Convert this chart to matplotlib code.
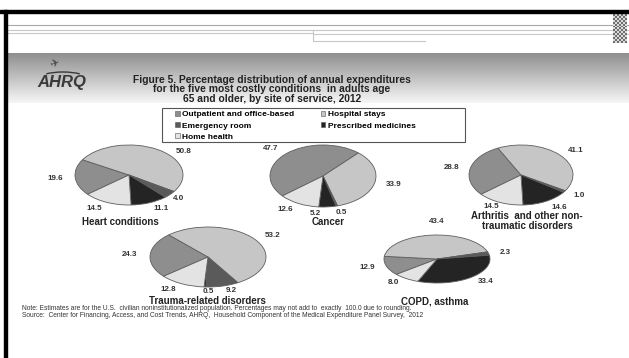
import numpy as np
import matplotlib
matplotlib.use("Agg")
import matplotlib.pyplot as plt
import matplotlib.patches as patches
from matplotlib.patches import Patch

plt.rcParams['font.family'] = ['Liberation Sans', 'DejaVu Sans']

# site-of-service categories (legend order)
categories = ['Outpatient and office-based', 'Hospital stays', 'Emergency room',
              'Prescribed medicines', 'Home health']
colors = ['#8e8e8e', '#c6c6c6', '#5a5a5a', '#242424', '#e3e3e3']

# percentage shares per condition, same order as categories
heart = [19.6, 50.8, 4.0, 11.1, 14.5]
cancer = [47.7, 33.9, 0.5, 5.2, 12.6]
arthritis = [28.8, 41.1, 1.0, 14.6, 14.5]
trauma = [24.3, 53.2, 9.2, 0.5, 12.8]
copd = [12.9, 43.4, 2.3, 33.4, 8.0]

titles = ['Heart conditions', 'Cancer', 'Arthritis  and other non-\ntraumatic disorders',
          'Trauma-related disorders', 'COPD, asthma']

W, H = 629, 358
fig = plt.figure(figsize=(W / 100, H / 100), dpi=100)

# background layer in pixel coordinates
bg = fig.add_axes([0, 0, 1, 1])
bg.set_xlim(0, W)
bg.set_ylim(H, 0)
bg.axis('off')

# header gradient band (dark at top, fading to white)
grad = np.linspace(0, 1, 100).reshape(-1, 1)
cmap = matplotlib.colors.LinearSegmentedColormap.from_list('g', ['#8f8f8f', '#f6f6f6'])
bg.imshow(grad, extent=(7, W, 103, 53), cmap=cmap, aspect='auto', zorder=0)

# frame lines of the slide
bg.add_patch(patches.Rectangle((0, 10), W, 2.5, color='black', zorder=3))
bg.add_patch(patches.Rectangle((4, 10), 3, H - 10, color='black', zorder=3))
bg.plot([7, W], [25, 25], color='#a8a8a8', lw=0.8)
bg.plot([7, W], [29.5, 29.5], color='#c8c8c8', lw=0.8)
bg.plot([7, 313], [32.5, 32.5], color='#c8c8c8', lw=0.8)
bg.plot([313, W], [33.5, 33.5], color='#c8c8c8', lw=0.8)
bg.plot([313, 313, 425], [29.5, 41, 41], color='#c8c8c8', lw=0.8)
chk = (np.indices((16, 7)).sum(axis=0) % 2).astype(float)
bg.imshow(chk, extent=(613, 627, 43, 12), cmap='Greys', vmin=-0.6, vmax=1.9,
          aspect='auto', interpolation='nearest', zorder=2)

# AHRQ logo
bg.text(62, 83, 'AHRQ', fontsize=12, fontweight='bold', style='italic',
        color='#3a3a3a', ha='center', va='center')
bg.add_patch(patches.Arc((63, 80), 52, 16, theta1=200, theta2=340, color='#3a3a3a', lw=1.0))
bg.text(55, 64, '\u2708', fontsize=8, color='#4a4a4a', ha='center', va='center',
        family=['DejaVu Sans'], rotation=20)

# figure title
bg.text(272, 89.5, 'Figure 5. Percentage distribution of annual expenditures\n'
        'for the five most costly conditions  in adults age\n'
        '65 and older, by site of service, 2012',
        fontsize=7.4, fontweight='bold', color='#222222', ha='center', va='center',
        linespacing=0.98)

# legend (frame drawn separately so the columns sit where the reference has them)
bg.add_patch(patches.Rectangle((162, 108), 303, 34, fill=False, edgecolor='#555555', lw=0.8))
handles = [Patch(facecolor=colors[i], edgecolor='#555555', lw=0.4, label=categories[i])
           for i in [0, 2, 4, 1, 3]]
fig.legend(handles=handles, ncol=2, loc='upper left',
           bbox_to_anchor=(175 / W, 1 - 111 / H),
           prop={'size': 6.0, 'weight': 'bold'}, frameon=False,
           handlelength=0.55, handleheight=0.55, handletextpad=0.3, borderpad=0,
           labelspacing=0.45, borderaxespad=0, columnspacing=3.2)

# pie placement: centre (px), radii (px), title position (px)
layout = [
    (heart, (129, 175), 54, 30, (120, 222)),
    (cancer, (323, 176), 53, 31, (328, 222)),
    (arthritis, (521, 175), 52, 30, (527, 221)),
    (trauma, (208, 257), 58, 30, (207, 301)),
    (copd, (437, 259), 53, 24, (435, 301)),
]
# label nudges in pixels (chart index, slice index) -> (dx, dy)
nudge = {(0, 1): (12, 8), (0, 2): (-6, 0), (1, 3): (-19, 0), (1, 2): (-4, 0),
         (2, 4): (4, -2), (3, 3): (10, -2), (3, 2): (0, -2), (4, 1): (14, -8)}

L = 1.7
for k, (vals, (cx, cy), rx, ry, (tx, ty)) in enumerate(layout):
    ax = fig.add_axes([(cx - L * rx) / W, 1 - (cy + L * ry) / H, 2 * L * rx / W, 2 * L * ry / H])
    wedges, texts = ax.pie(vals, colors=colors, startangle=220, counterclock=False,
                           labels=[f'{v:.1f}' for v in vals], labeldistance=1.22,
                           wedgeprops=dict(edgecolor='#5e5e5e', linewidth=0.6),
                           textprops=dict(fontsize=5.8, fontweight='bold', color='#333333'))
    ax.set_aspect('auto')
    ax.set_xlim(-L, L)
    ax.set_ylim(-L, L)
    ax.patch.set_alpha(0)
    for i, t in enumerate(texts):
        if (k, i) in nudge:
            dx, dy = nudge[(k, i)]
            x, y = t.get_position()
            t.set_position((x + dx / rx, y - dy / ry))
    bg.text(tx, ty, titles[k], fontsize=7, fontweight='bold', color='#222222',
            ha='center', va='center', linespacing=0.95)

# footnote
bg.text(22, 309, 'Note: Estimates are for the U.S.  civilian noninstitutionalized population. '
        'Percentages may not add to  exactly  100.0 due to rounding.', fontsize=4.8,
        color='#333333', va='center')
bg.text(22, 315.5, 'Source:  Center for Financing, Access, and Cost Trends, AHRQ,  Household '
        'Component of the Medical Expenditure Panel Survey,  2012', fontsize=4.8,
        color='#333333', va='center')

fig.savefig('out.png', dpi=100)
